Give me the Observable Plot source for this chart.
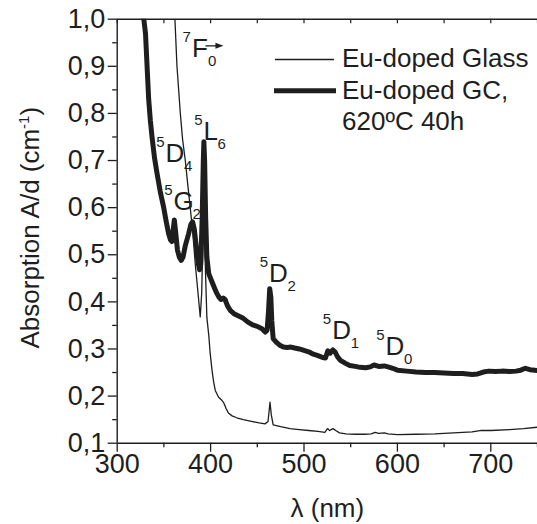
<!DOCTYPE html>
<html>
<head>
<meta charset="utf-8">
<script src="https://cdn.jsdelivr.net/npm/d3@7"></script>
<script src="https://cdn.jsdelivr.net/npm/@observablehq/plot@0.6"></script>
<style>
  html, body { margin: 0; padding: 0; background: #fff; }
  #chart svg { display: block; }
</style>
</head>
<body>
<div id="chart"></div>
<script>
// ---- data (wavelength nm, absorption A/d cm^-1) ----
const glass = [
  [361.8,1.0],[364,0.9],[367.6,0.8],[370,0.745],[372.9,0.7],[375.5,0.65],[378.2,0.6],[381,0.545],
  [383.6,0.48],[386,0.43],[388.9,0.368],[390.5,0.42],[392,0.56],[392.6,0.6],[394,0.5],[396,0.367],
  [398,0.33],[399.6,0.29],[401.5,0.255],[403.1,0.232],[405,0.212],[408.4,0.198],[412,0.191],
  [414,0.186],[416.5,0.174],[419.1,0.164],[423,0.158],[428,0.154],[435,0.15],[445,0.146],
  [452,0.143],[458.3,0.141],[461.5,0.146],[463.6,0.187],[465,0.16],[467,0.139],[475,0.135],
  [485,0.131],[495,0.129],[505,0.127],[515,0.125],[522.3,0.123],[525.2,0.131],[527.5,0.127],
  [531,0.131],[534,0.127],[538,0.122],[545,0.12],[555,0.119],[565,0.119],[572,0.12],[576,0.123],
  [580,0.121],[586,0.122],[590,0.12],[600,0.118],[620,0.119],[640,0.12],[660,0.122],[680,0.124],
  [690,0.127],[700,0.127],[720,0.129],[735,0.131],[750,0.134]
];
const glassCeramic = [
  [328.5,1.0],[330.3,0.97],[332,0.9],[333.7,0.83],[335.5,0.785],[337.3,0.75],[340,0.705],
  [342.7,0.672],[346,0.635],[349.8,0.6],[352.5,0.57],[355,0.545],[357,0.532],[358.5,0.528],
  [359.5,0.545],[361.2,0.574],[362.5,0.55],[364.5,0.51],[366.5,0.495],[368.6,0.488],[370.5,0.495],
  [373,0.52],[376.5,0.545],[379,0.565],[380.7,0.57],[382.5,0.555],[384.5,0.52],[386.5,0.485],
  [388.2,0.468],[389.5,0.48],[391,0.58],[392.2,0.7],[392.8,0.74],[393.6,0.7],[394.7,0.58],
  [396,0.495],[398,0.46],[399.6,0.452],[402,0.44],[404.5,0.428],[406.7,0.418],[409,0.41],
  [411,0.405],[413.5,0.408],[415.5,0.405],[418,0.392],[421,0.382],[425,0.375],[430,0.37],
  [435,0.365],[440,0.357],[445,0.351],[450,0.348],[455,0.343],[458.5,0.336],[460.5,0.34],
  [462,0.38],[463.3,0.428],[464.5,0.41],[465.5,0.36],[467,0.322],[470,0.315],[474,0.308],
  [478,0.304],[482,0.303],[486,0.304],[490,0.302],[495,0.3],[500,0.297],[505,0.294],[510,0.289],
  [515,0.286],[520,0.282],[523,0.281],[525.5,0.296],[528,0.291],[531,0.298],[533.5,0.293],
  [536,0.283],[539,0.276],[544,0.27],[549,0.265],[555,0.263],[560,0.261],[566,0.26],[571,0.262],
  [575,0.266],[580,0.263],[586,0.264],[590,0.262],[595,0.259],[600,0.255],[610,0.253],[620,0.251],
  [630,0.25],[640,0.25],[650,0.249],[660,0.248],[670,0.248],[680,0.246],[686,0.247],[692,0.251],
  [698,0.253],[705,0.252],[712,0.253],[720,0.252],[727,0.253],[732,0.255],[737,0.259],[742,0.256],
  [750,0.254]
];

const seriesNames = ["Eu-doped Glass", "Eu-doped GC,", "620ºC 40h"];

const xDomain = [300, 750];
const yDomain = [0.1, 1.0];
const xTicks = [300, 400, 500, 600, 700];
const xTickLabels = ["300", "400", "500", "600", "700"];
const xMinorTicks = [350, 450, 550, 650, 750];
const yTicks = [0.1, 0.2, 0.3, 0.4, 0.5, 0.6, 0.7, 0.8, 0.9, 1.0];
const yTickLabels = ["0,1", "0,2", "0,3", "0,4", "0,5", "0,6", "0,7", "0,8", "0,9", "1,0"];
const yMinorTicks = [0.15, 0.25, 0.35, 0.45, 0.55, 0.65, 0.75, 0.85, 0.95];

const xTitle = "λ (nm)";
const yTitle = ["Absorption A/d (cm", "-1", ")"];

// transition labels: superscript, letter, subscript, anchored at (wavelength, absorption)
const transitions = [
  {sup: "7", letter: "F", sub: "0", wl: 380.0, abs: 0.919},
  {sup: "5", letter: "D", sub: "4", wl: 351.7, abs: 0.696},
  {sup: "5", letter: "G", sub: "2", wl: 360.3, abs: 0.594},
  {sup: "5", letter: "L", sub: "6", wl: 392.4, abs: 0.743},
  {sup: "5", letter: "D", sub: "2", wl: 462.5, abs: 0.443},
  {sup: "5", letter: "D", sub: "1", wl: 530.2, abs: 0.322},
  {sup: "5", letter: "D", sub: "0", wl: 587.3, abs: 0.288}
];

// ---- styling ----
const FONT = "'Liberation Sans', Arial, Helvetica, sans-serif";
const INK = "#1e1e1e";
const subOffset = {D: 18.5, F: 16, G: 19, L: 14};

const subMarks = Object.entries(subOffset).map(([letter, dx]) =>
  Plot.text(transitions, {
    filter: d => d.letter === letter,
    x: "wl", y: "abs", text: "sub",
    textAnchor: "start", lineAnchor: "bottom",
    dx, dy: 9, fontSize: 15, fill: INK
  })
);

function arrowMark(index, scales) {
  const t = transitions.find(d => d.letter === "F");
  const x0 = scales.x(t.wl) + 14, y0 = scales.y(t.abs) - 11;
  const g = d3.create("svg:g").attr("fill", INK).attr("stroke", INK);
  g.append("line").attr("x1", x0).attr("x2", x0 + 12).attr("y1", y0).attr("y2", y0).attr("stroke-width", 1.3);
  g.append("path").attr("stroke", "none")
    .attr("d", `M${x0 + 18},${y0}L${x0 + 10},${y0 - 3}L${x0 + 10},${y0 + 3}Z`);
  return g.node();
}

function legendMark() {
  const g = d3.create("svg:g").attr("font-family", FONT).attr("font-size", 26)
    .attr("fill", INK).attr("text-anchor", "start");
  g.append("line").attr("x1", 275).attr("x2", 334).attr("y1", 59.5).attr("y2", 59.5)
    .attr("stroke", INK).attr("stroke-width", 1.3);
  g.append("line").attr("x1", 274).attr("x2", 336).attr("y1", 90.7).attr("y2", 90.7)
    .attr("stroke", INK).attr("stroke-width", 5);
  g.append("text").attr("x", 342).attr("y", 67).text(seriesNames[0]);
  g.append("text").attr("x", 342).attr("y", 98.5).text(seriesNames[1]);
  g.append("text").attr("x", 342).attr("y", 129.5).text(seriesNames[2]);
  return g.node();
}

function yTitleMark(index, scales, values, dimensions) {
  const cy = (dimensions.marginTop + dimensions.height - dimensions.marginBottom) / 2 - 3;
  const t = d3.create("svg:text")
    .attr("transform", `translate(38.5,${cy}) rotate(-90)`)
    .attr("text-anchor", "middle")
    .attr("font-family", FONT).attr("font-size", 26).attr("fill", INK);
  t.append("tspan").text(yTitle[0]);
  t.append("tspan").attr("font-size", 15).attr("dy", -10).text(yTitle[1]);
  t.append("tspan").attr("dy", 10).text(yTitle[2]);
  return t.node();
}

const chart = Plot.plot({
  width: 537,
  height: 524,
  marginLeft: 116.7,
  marginRight: 0,
  marginTop: 18.7,
  marginBottom: 81.3,
  style: {fontFamily: FONT, background: "#fff", color: INK},
  x: {domain: xDomain},
  y: {domain: yDomain},
  marks: [
    Plot.axisX({ticks: xTicks, tickSize: 9, tickPadding: 2, strokeWidth: 1.3,
      tickFormat: d => xTickLabels[xTicks.indexOf(d)], fontSize: 27, label: null}),
    Plot.axisX({ticks: xMinorTicks, tickSize: 4.5, strokeWidth: 1.3, fill: "none", label: null}),
    Plot.axisX({anchor: "top", ticks: [...xTicks, ...xMinorTicks], tickSize: 3.5, dy: 3.5,
      strokeWidth: 1.2, fill: "none", label: null}),
    Plot.axisY({ticks: yTicks, tickSize: 9, tickPadding: 3, strokeWidth: 1.3,
      tickFormat: d => yTickLabels[yTicks.indexOf(d)], fontSize: 27, label: null}),
    Plot.axisY({ticks: yMinorTicks, tickSize: 4.5, strokeWidth: 1.3, fill: "none", label: null}),
    Plot.ruleX([xDomain[0]], {stroke: INK, strokeWidth: 1.4}),
    Plot.ruleY(yDomain, {stroke: INK, strokeWidth: 1.4}),
    Plot.line(glass, {x: d => d[0], y: d => d[1], stroke: INK, strokeWidth: 1.3, clip: true}),
    Plot.line(glassCeramic, {x: d => d[0], y: d => d[1], stroke: INK, strokeWidth: 5,
      strokeLinejoin: "round", clip: true}),
    Plot.text(transitions, {x: "wl", y: "abs", text: "letter", textAnchor: "start",
      lineAnchor: "bottom", fontSize: 26, fill: INK}),
    Plot.text(transitions, {x: "wl", y: "abs", text: "sup", textAnchor: "end",
      lineAnchor: "bottom", dx: -1, dy: -15, fontSize: 15, fill: INK}),
    ...subMarks,
    arrowMark,
    legendMark,
    Plot.text([xTitle], {text: d => d, frameAnchor: "bottom", lineAnchor: "bottom",
      dy: 74, fontSize: 26, fill: INK}),
    yTitleMark
  ]
});

document.getElementById("chart").appendChild(chart);
</script>
</body>
</html>
